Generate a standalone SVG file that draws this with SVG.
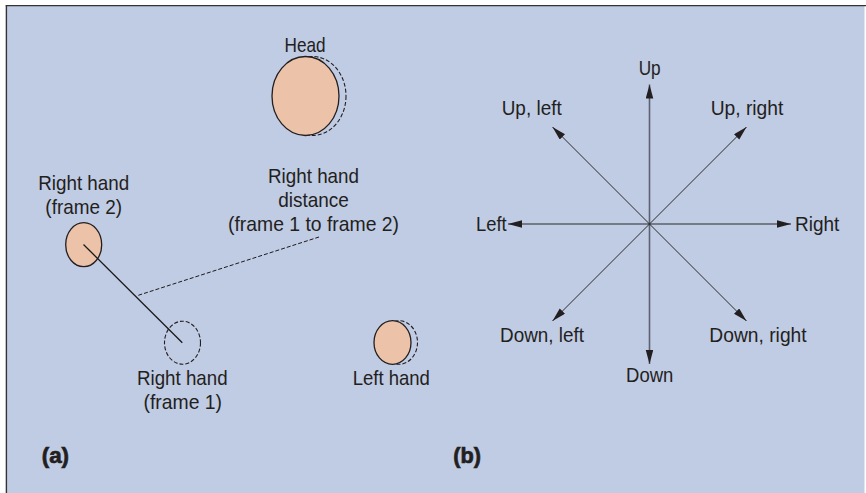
<svg xmlns="http://www.w3.org/2000/svg" width="866" height="493" viewBox="0 0 866 493">
  <style>
    .t { font-family: "Liberation Sans", Arial, sans-serif; font-size: 21px; fill: #231f20; }
    .lab { font-family: "Liberation Sans", Arial, sans-serif; font-size: 22px; font-weight: bold; fill: #231f20; stroke: #231f20; stroke-width: 0.7; }
    .body { fill: #ecc3a8; stroke: #231f20; stroke-width: 1.3; }
    .ghost { fill: none; stroke: #231f20; stroke-width: 1.1; stroke-dasharray: 4 2; }
    .ax { stroke: #2b2b2b; stroke-width: 1.2; fill: none; marker-end: url(#ah); }
    .vax { stroke: #5c6270; stroke-width: 1.6; }
    .dax { stroke-width: 1; }
  </style>
  <defs>
    <marker id="ah" markerUnits="userSpaceOnUse" markerWidth="15" markerHeight="8" refX="14" refY="3.75" orient="auto">
      <path d="M0,0 L14,3.75 L0,7.5 z" fill="#231f20"/>
    </marker>
  </defs>
  <rect x="0" y="0" width="866" height="493" fill="#ffffff"/>
  <rect x="6.5" y="5.5" width="858" height="488" fill="#c0cbe4"/>
  <line x1="5.8" y1="5.6" x2="866" y2="5.6" stroke="#333" stroke-width="1.4"/>
  <line x1="6.4" y1="5" x2="6.4" y2="493" stroke="#333" stroke-width="1.4"/>

  <g id="head">
    <ellipse class="ghost" cx="312.5" cy="96" rx="33.5" ry="39.5"/>
    <ellipse class="body" cx="305.5" cy="96" rx="33.5" ry="39.5"/>
    <text class="t" x="305" y="52.3" text-anchor="middle" textLength="41" lengthAdjust="spacingAndGlyphs">Head</text>
  </g>

  <g id="right-hand-frame2">
    <ellipse class="body" cx="83.7" cy="244.7" rx="18" ry="22"/>
    <text class="t" x="83.7" y="189.5" text-anchor="middle" textLength="91" lengthAdjust="spacingAndGlyphs">Right hand</text>
    <text class="t" x="83.7" y="213.5" text-anchor="middle" textLength="76.7" lengthAdjust="spacingAndGlyphs">(frame 2)</text>
  </g>

  <g id="right-hand-frame1">
    <ellipse class="ghost" cx="182.5" cy="342.7" rx="18" ry="21.5"/>
    <text class="t" x="182.3" y="385" text-anchor="middle" textLength="90.6" lengthAdjust="spacingAndGlyphs">Right hand</text>
    <text class="t" x="182.8" y="409.3" text-anchor="middle" textLength="78.5" lengthAdjust="spacingAndGlyphs">(frame 1)</text>
  </g>

  <g id="left-hand">
    <ellipse class="ghost" cx="399" cy="342.5" rx="18.5" ry="21.8"/>
    <ellipse class="body" cx="392.5" cy="342.5" rx="18.5" ry="21.8"/>
    <text class="t" x="391.3" y="385" text-anchor="middle" textLength="77.3" lengthAdjust="spacingAndGlyphs">Left hand</text>
  </g>

  <g id="distance-label">
    <text class="t" x="313.5" y="182.7" text-anchor="middle" textLength="91" lengthAdjust="spacingAndGlyphs">Right hand</text>
    <text class="t" x="313.5" y="206.7" text-anchor="middle" textLength="70.7" lengthAdjust="spacingAndGlyphs">distance</text>
    <text class="t" x="313.5" y="230.7" text-anchor="middle" textLength="171" lengthAdjust="spacingAndGlyphs">(frame 1 to frame 2)</text>
  </g>

  <g id="connectors">
    <line x1="83.5" y1="244.5" x2="182.3" y2="342.7" stroke="#1a1a1a" stroke-width="1.3"/>
    <line x1="138.3" y1="295.3" x2="319" y2="237" stroke="#1a1a1a" stroke-width="1" stroke-dasharray="4 2"/>
    <line class="ax vax" x1="649.5" y1="224" x2="649.5" y2="84.5"/>
    <line class="ax vax" x1="649.5" y1="224" x2="649.5" y2="364"/>
    <line class="ax" x1="649.5" y1="224" x2="508" y2="224"/>
    <line class="ax" x1="649.5" y1="224" x2="791" y2="224"/>
    <line class="ax dax" x1="649.5" y1="224" x2="552.5" y2="127"/>
    <line class="ax dax" x1="649.5" y1="224" x2="746.5" y2="127"/>
    <line class="ax dax" x1="649.5" y1="224" x2="552.5" y2="321"/>
    <line class="ax dax" x1="649.5" y1="224" x2="746.5" y2="321"/>
  </g>

  <g id="direction-labels">
    <text class="t" x="649.7" y="75" text-anchor="middle" textLength="22" lengthAdjust="spacingAndGlyphs">Up</text>
    <text class="t" x="531.7" y="115" text-anchor="middle" textLength="60" lengthAdjust="spacingAndGlyphs">Up, left</text>
    <text class="t" x="747" y="115" text-anchor="middle" textLength="72.7" lengthAdjust="spacingAndGlyphs">Up, right</text>
    <text class="t" x="476" y="230.7" textLength="30.7" lengthAdjust="spacingAndGlyphs">Left</text>
    <text class="t" x="795" y="230.7" textLength="44.3" lengthAdjust="spacingAndGlyphs">Right</text>
    <text class="t" x="542" y="342.3" text-anchor="middle" textLength="84" lengthAdjust="spacingAndGlyphs">Down, left</text>
    <text class="t" x="758" y="342.3" text-anchor="middle" textLength="97.3" lengthAdjust="spacingAndGlyphs">Down, right</text>
    <text class="t" x="649.7" y="381.7" text-anchor="middle" textLength="47.3" lengthAdjust="spacingAndGlyphs">Down</text>
  </g>

  <g id="panel-labels">
    <text class="lab" x="41.7" y="462.5" textLength="27.3" lengthAdjust="spacingAndGlyphs">(a)</text>
    <text class="lab" x="453.3" y="462.5" textLength="27.7" lengthAdjust="spacingAndGlyphs">(b)</text>
  </g>
</svg>
